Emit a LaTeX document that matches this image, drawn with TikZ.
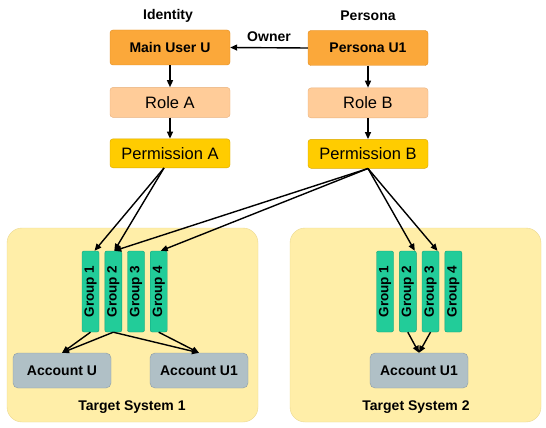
\documentclass[tikz,border=0pt]{standalone}
\usepackage{fontspec}
\setmainfont{Liberation Sans}
\usepackage{tikz}
\usetikzlibrary{positioning}
\usetikzlibrary{arrows.meta}
\usepackage{xcolor}

\definecolor{userorange}{HTML}{FBA83A}
\definecolor{userorangeline}{HTML}{E08A1C}
\definecolor{rolepeach}{HTML}{FFCC99}
\definecolor{rolepeachline}{HTML}{E8B07C}
\definecolor{permgold}{HTML}{FFCC00}
\definecolor{permgoldline}{HTML}{D9A800}
\definecolor{groupteal}{HTML}{22CC99}
\definecolor{grouptealline}{HTML}{12A07A}
\definecolor{accountgray}{HTML}{B0C0C6}
\definecolor{accountgrayline}{HTML}{8C9CA4}
\definecolor{panelyellow}{HTML}{FFEEA8}
\definecolor{panelyellowline}{HTML}{EBD890}

\begin{document}
\begin{tikzpicture}[
  x=1pt, y=-1pt,
  bigfont/.style={font=\bfseries\fontsize{14}{16}\selectfont},
  userbox/.style={draw=userorangeline, fill=userorange, rounded corners=3pt, minimum width=120pt, minimum height=35pt, bigfont},
  rolebox/.style={draw=rolepeachline, fill=rolepeach, rounded corners=3pt, minimum width=120pt, minimum height=30pt, font=\fontsize{16.5}{18}\selectfont},
  permbox/.style={draw=permgoldline, fill=permgold, rounded corners=3pt, minimum width=120pt, minimum height=29pt, font=\fontsize{16.5}{18}\selectfont},
  groupbox/.style={draw=grouptealline, fill=groupteal, rounded corners=2pt, minimum width=81pt, minimum height=17pt, rotate=90, inner sep=0pt, font=\bfseries\fontsize{13.5}{15}\selectfont},
  accountbox/.style={draw=accountgrayline, fill=accountgray, rounded corners=5pt, minimum width=98pt, minimum height=35pt, bigfont},
  panel/.style={draw=panelyellowline, fill=panelyellow, rounded corners=15pt, minimum width=251pt, minimum height=194pt},
  caption/.style={bigfont, inner sep=1pt},
  arrow/.style={-{Triangle[length=7pt,width=6pt]}, line width=1.4pt}
]
\useasboundingbox (0,0) rectangle (546,428);

% Target system panels
\node[panel] (ts1) at (132.5,325) {};
\node[panel] (ts2) at (415.5,325) {};
\node[caption] (ts1label) at (132,407) {Target System 1};
\node[caption] (ts2label) at (416,407) {Target System 2};

% Identity and persona
\node[caption] (identity) at (168,16) {Identity};
\node[caption] (persona) at (368,16) {Persona};
\node[userbox] (mainuser) at (170,47.5) {Main User U};
\node[userbox] (personau1) at (368,48) {Persona U1};
\node[rolebox, below=22pt of mainuser] (rolea) {Role A};
\node[rolebox, below=22pt of personau1] (roleb) {Role B};
\node[permbox, below=21pt of rolea] (perma) {Permission A};
\node[permbox, below=21pt of roleb] (permb) {Permission B};

% Groups
\node[groupbox] (g1a) at (90.5,291.5) {Group 1};
\node[groupbox] (g2a) at (113.3,291.5) {Group 2};
\node[groupbox] (g3a) at (136,291.5) {Group 3};
\node[groupbox] (g4a) at (158.7,291.5) {Group 4};
\node[groupbox] (g1b) at (385,291.5) {Group 1};
\node[groupbox] (g2b) at (407.8,291.5) {Group 2};
\node[groupbox] (g3b) at (430.5,291.5) {Group 3};
\node[groupbox] (g4b) at (453.3,291.5) {Group 4};

% Accounts
\node[accountbox] (accu) at (62,370.5) {Account U};
\node[accountbox] (accu1a) at (199,370.5) {Account U1};
\node[accountbox] (accu1b) at (419,370.5) {Account U1};

% Edges
\draw[arrow] (personau1.west) -- node[caption, above=4pt]{Owner} (mainuser.east);
\draw[arrow] (mainuser.south) -- (rolea.north);
\draw[arrow] (rolea.south) -- (perma.north);
\draw[arrow] (personau1.south) -- (roleb.north);
\draw[arrow] (roleb.south) -- (permb.north);

\draw[arrow] ([xshift=-6pt]perma.south) -- ([xshift=4pt]g1a.east);
\draw[arrow] ([xshift=-6pt]perma.south) -- ([xshift=1pt]g2a.east);
\draw[arrow] (permb.south) -- ([xshift=1pt]g2a.east);
\draw[arrow] (permb.south) -- ([xshift=2pt]g4a.east);
\draw[arrow] (permb.south) -- ([xshift=7pt]g2b.east);
\draw[arrow] (permb.south) -- ([xshift=7pt]g3b.east);

\draw[arrow] (g1a.west) -- (accu.north);
\draw[arrow] (g2a.west) -- (accu.north);
\draw[arrow] (g2a.west) -- (accu1a.north);
\draw[arrow] (g4a.west) -- (accu1a.north);
\draw[arrow] (g2b.west) -- (accu1b.north);
\draw[arrow] (g3b.west) -- (accu1b.north);

\end{tikzpicture}
\end{document}
